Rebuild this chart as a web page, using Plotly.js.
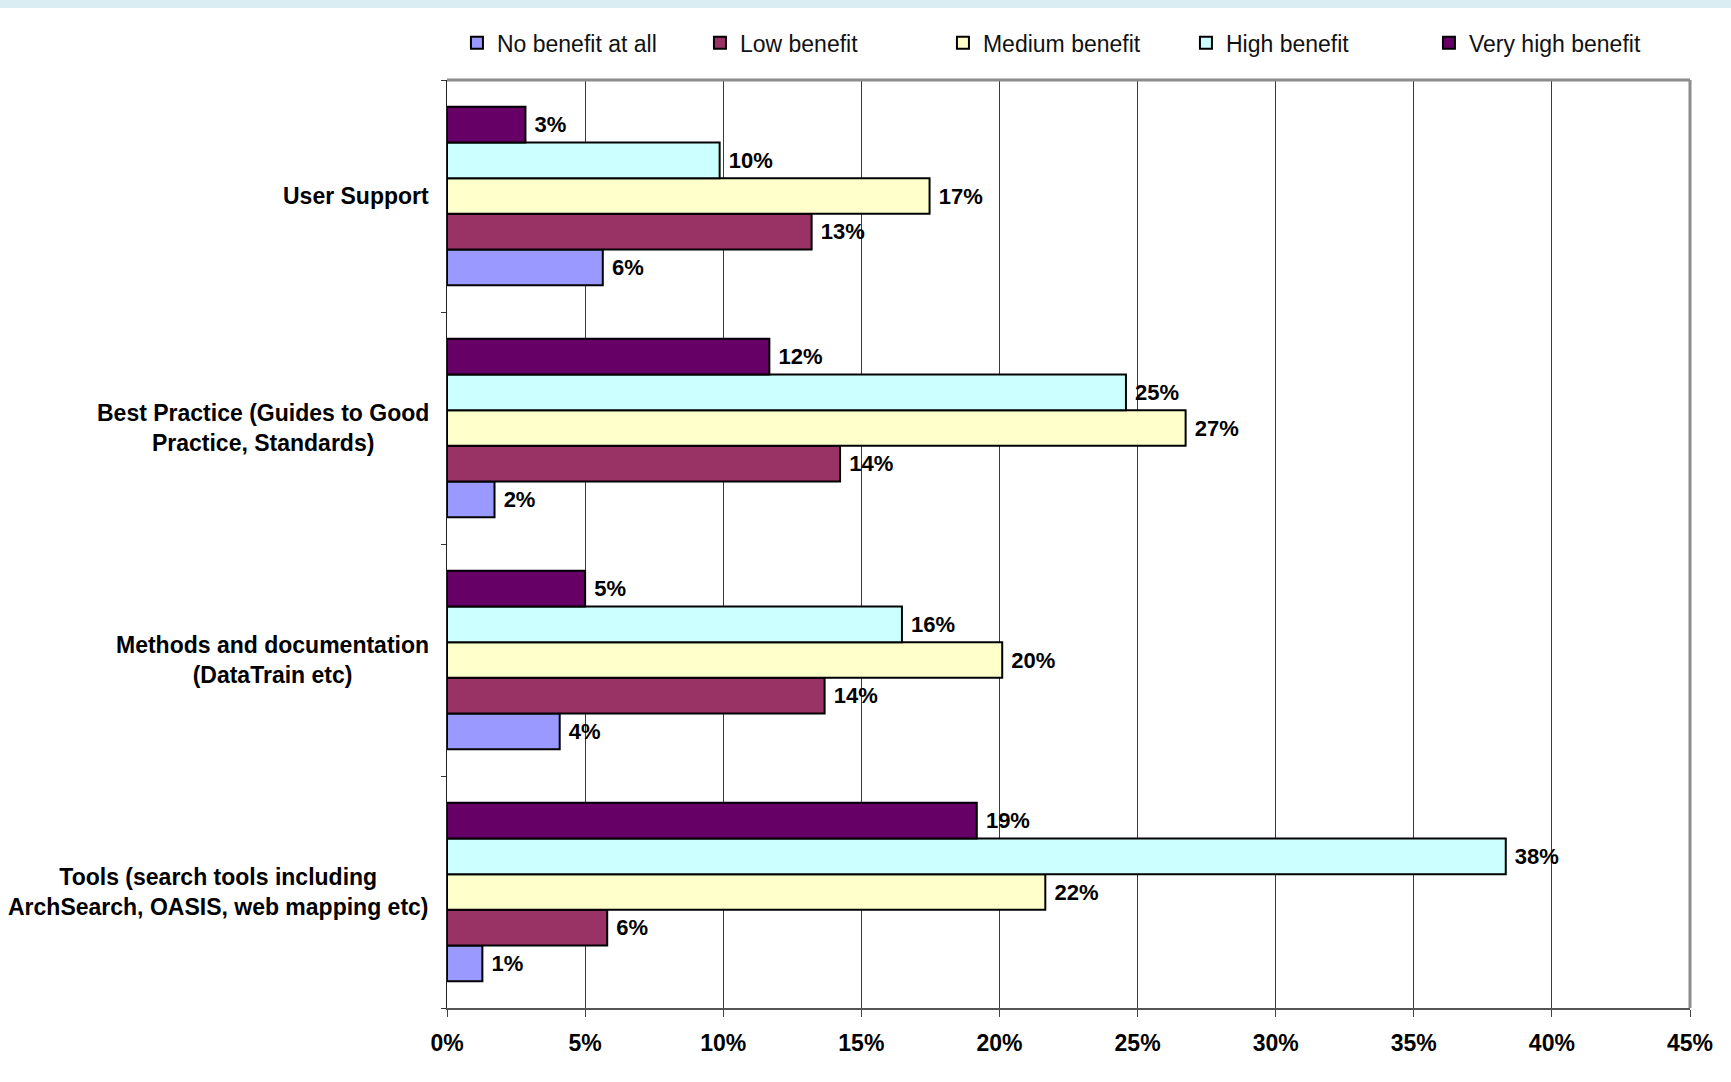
<!DOCTYPE html>
<html>
<head>
<meta charset="utf-8">
<script src="https://cdn.plot.ly/plotly-3.0.1.min.js"></script>
<style>
  html, body { margin: 0; padding: 0; background: #ffffff; }
  #band { position: absolute; left: 0; top: 0; width: 1731px; height: 8px; background: #daedf2; z-index: 5; }
  #chart { position: absolute; left: 0; top: 0; width: 1731px; height: 1082px; }
</style>
</head>
<body>
<div id="band"></div>
<div id="chart"></div>
<script>
// Categories listed bottom-to-top (Plotly draws the first category at the bottom)
const categories = [
  "Tools (search tools including<br>ArchSearch, OASIS, web mapping etc)",
  "Methods and documentation<br>(DataTrain etc)",
  "Best Practice (Guides to Good<br>Practice, Standards)",
  "User Support"
];
const seriesNames = ["No benefit at all", "Low benefit", "Medium benefit", "High benefit", "Very high benefit"];
const noBenefit     = [0.0128, 0.0408, 0.0172, 0.0564];
const lowBenefit    = [0.0580, 0.1367, 0.1423, 0.1320];
const mediumBenefit = [0.2166, 0.2010, 0.2674, 0.1747];
const highBenefit   = [0.3833, 0.1647, 0.2458, 0.0987];
const veryHighBenefit = [0.1918, 0.0500, 0.1167, 0.0284];
const xTicks = [0, 0.05, 0.10, 0.15, 0.20, 0.25, 0.30, 0.35, 0.40, 0.45];

const seriesValues = [noBenefit, lowBenefit, mediumBenefit, highBenefit, veryHighBenefit];
const colors = ["#9999ff", "#993366", "#ffffcc", "#ccffff", "#660066"];
const FONT = "'Liberation Sans', Arial, sans-serif";

const traces = seriesNames.map((name, i) => ({
  type: "bar",
  orientation: "h",
  name: name,
  y: categories,
  x: seriesValues[i],
  marker: { color: colors[i], line: { color: "#000000", width: 2 } },
  text: seriesValues[i].map(v => "\u00a0" + Math.round(v * 100) + "%"),
  textposition: "outside",
  textfont: { family: FONT, size: 22, color: "#000000", weight: "bold" },
  cliponaxis: false,
  hoverinfo: "x+name"
}));

const annotations = categories.map(c => ({
  xref: "paper", yref: "y", x: 0, y: c,
  xanchor: "right", yanchor: "middle", xshift: -16,
  align: "center", showarrow: false,
  text: c,
  font: { family: FONT, size: 23, color: "#000000", weight: "bold" }
}));

const layout = {
  width: 1731, height: 1082,
  paper_bgcolor: "#ffffff", plot_bgcolor: "#ffffff",
  margin: { l: 447, r: 41, t: 80, b: 74, pad: 0 },
  barmode: "group",
  bargap: 0.23,
  bargroupgap: 0,
  showlegend: true,
  legend: {
    orientation: "h", x: 0.008, xanchor: "left", y: 1.04, yanchor: "middle",
    font: { family: FONT, size: 23, color: "#111111" },
    traceorder: "normal", entrywidth: 198, entrywidthmode: "pixels",
    itemwidth: 30,
    bgcolor: "rgba(0,0,0,0)"
  },
  xaxis: {
    range: [0, 0.45], tickvals: xTicks, tickformat: ".0%",
    showgrid: true, gridcolor: "#3a3a3a", gridwidth: 1,
    zeroline: false, showline: true, linecolor: "#555555", linewidth: 2,
    ticks: "outside", ticklen: 7, tickcolor: "#444444", tickwidth: 1,
    ticklabelstandoff: 6,
    tickfont: { family: FONT, size: 23, color: "#000000", weight: "bold" },
    fixedrange: true
  },
  yaxis: {
    type: "category", categoryorder: "array", categoryarray: categories,
    showticklabels: false, showgrid: false, zeroline: false,
    showline: true, linecolor: "#222222", linewidth: 1.5,
    ticks: "outside", tickson: "boundaries", ticklen: 5, tickcolor: "#333333",
    fixedrange: true
  },
  shapes: [
    { type: "line", xref: "paper", yref: "paper", x0: 0, x1: 1, y0: 1, y1: 1, line: { color: "#8c8c8c", width: 3 } },
    { type: "line", xref: "paper", yref: "paper", x0: 1, x1: 1, y0: 0, y1: 1, line: { color: "#8c8c8c", width: 3 } }
  ],
  annotations: annotations
};

Plotly.newPlot("chart", traces, layout, { displayModeBar: false, staticPlot: true });
</script>
</body>
</html>
